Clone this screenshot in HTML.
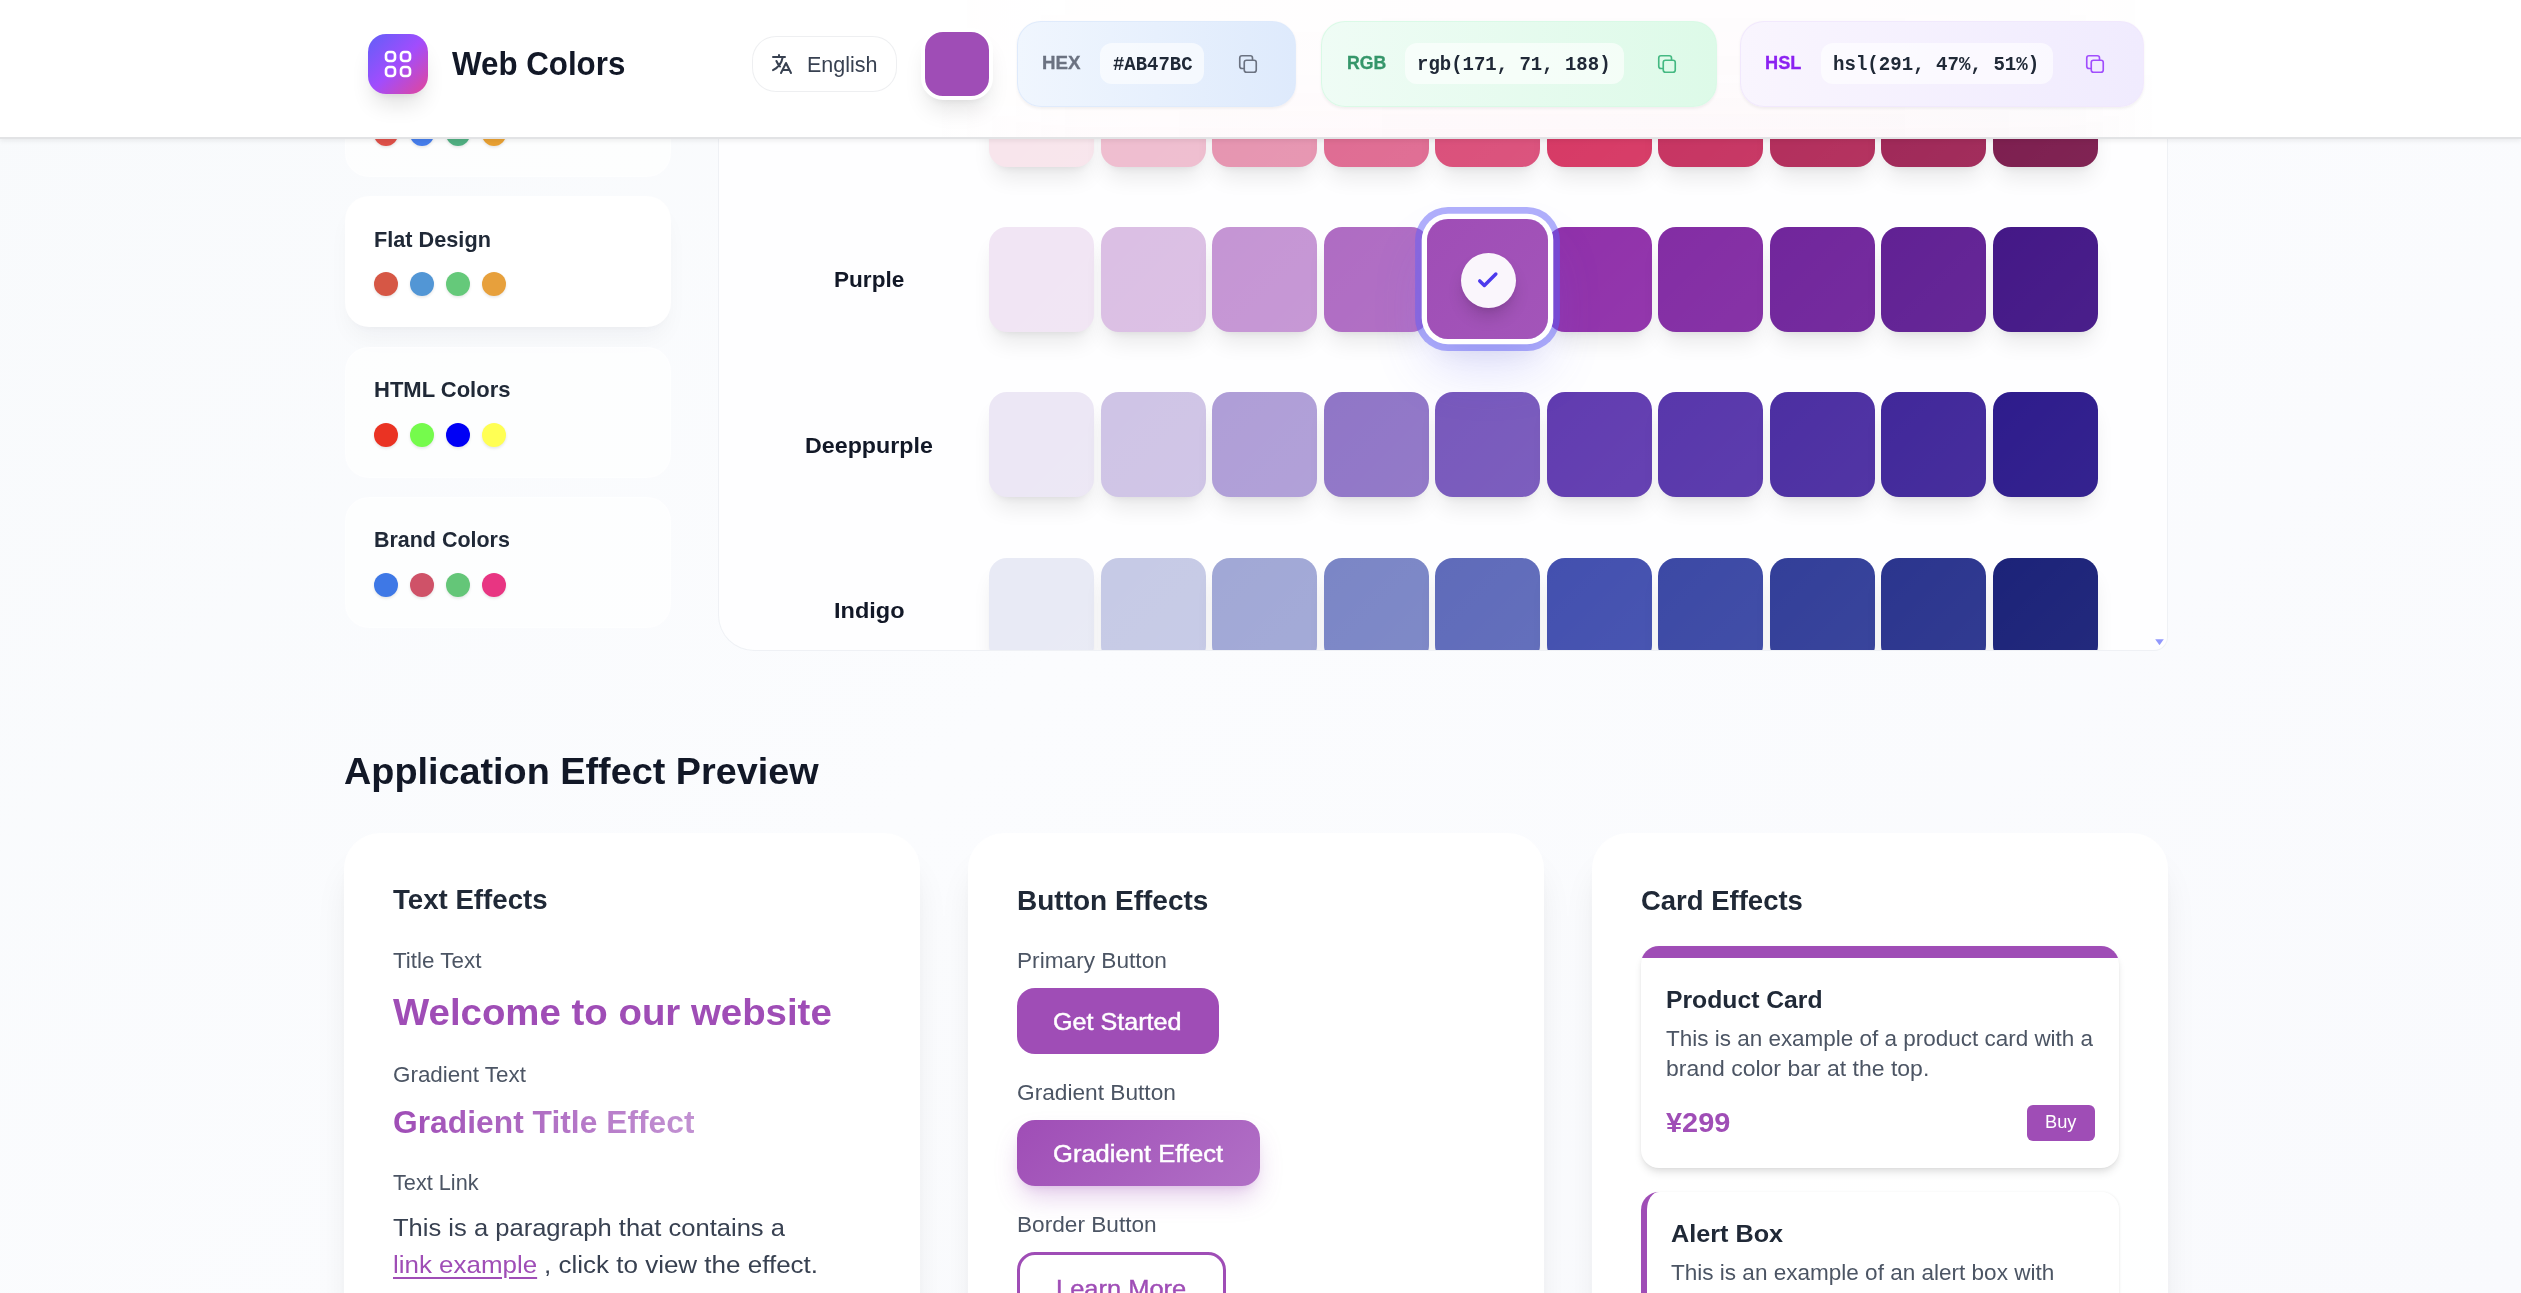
<!DOCTYPE html>
<html lang="en">
<head>
<meta charset="utf-8">
<title>Web Colors</title>
<style>
*{box-sizing:border-box;margin:0;padding:0}
html,body{width:2521px;height:1293px;overflow:hidden}
body{position:relative;font-family:"Liberation Sans",Arial,sans-serif;background:linear-gradient(135deg,#f8fafc 0%,#fbfcfe 45%,#f9fafd 100%);-webkit-font-smoothing:antialiased}
span,h1,h2,h3,h4,p,a,label,code,button{position:absolute;white-space:nowrap;display:block;transform-origin:0 50%}
a{text-decoration:none}
button{border:0;background:none;font:inherit}
.abs{position:absolute}
header{position:absolute;left:0;top:0;width:2521px;height:139px;background:#fff;border-bottom:2px solid rgba(224,225,228,.95);box-shadow:0 2px 5px rgba(0,0,0,.065);z-index:10}
.sw{position:absolute;width:105.4px;height:105.4px;border-radius:18px;box-shadow:0 15px 22px -5px rgba(0,0,0,.09),0 6px 9px -6px rgba(0,0,0,.09)}
.sw i{position:absolute;inset:0;border-radius:18px;background:linear-gradient(135deg,rgba(255,255,255,0) 0%,rgba(255,255,255,.03) 100%)}
.pal{position:absolute;left:344.5px;width:326px;height:131px;border-radius:24px;background:rgba(255,255,255,.62);border:1.5px solid rgba(255,255,255,.5)}
.pal.on{background:#fff;box-shadow:0 15px 24px -5px rgba(15,23,42,.045),0 6px 9px -6px rgba(15,23,42,.035)}
.dot{position:absolute;width:24px;height:24px;border-radius:50%;box-shadow:0 1.5px 3px rgba(0,0,0,.10)}
.fmt{position:absolute;top:20.5px;height:86.5px;border-radius:24px;box-shadow:0 1.5px 3px rgba(0,0,0,.05)}
.chip{position:absolute;top:23px;height:40.5px;border-radius:12px;background:rgba(255,255,255,.62)}
.card{position:absolute;top:832.5px;width:575.5px;height:620px;border-radius:36px;background:rgba(255,255,255,.86);border:1.5px solid rgba(255,255,255,.7);box-shadow:0 30px 37.5px -7.5px rgba(0,0,0,.088),0 12px 15px -9px rgba(0,0,0,.07)}
</style>
</head>
<body>

<aside>
<div class="pal" style="top:46.2px">
<i class="dot" style="left:28.5px;top:75.1px;background:#de5049"></i>
<i class="dot" style="left:64.5px;top:75.1px;background:#467deb"></i>
<i class="dot" style="left:100.5px;top:75.1px;background:#50af82"></i>
<i class="dot" style="left:136.5px;top:75.1px;background:#e8a032"></i>
</div>
<div class="pal on" style="top:196.3px">
<h3 style="left:28.60px;top:28.72px;font:700 21.6px/28px 'Liberation Sans',Arial,sans-serif;color:#202937;transform:scaleX(1.0043);">Flat Design</h3>
<i class="dot" style="left:28.5px;top:75.1px;background:#d65745"></i>
<i class="dot" style="left:64.5px;top:75.1px;background:#5296d5"></i>
<i class="dot" style="left:100.5px;top:75.1px;background:#65c97a"></i>
<i class="dot" style="left:136.5px;top:75.1px;background:#e7a03c"></i>
</div>
<div class="pal" style="top:346.5px">
<h3 style="left:28.70px;top:28.72px;font:700 21.6px/28px 'Liberation Sans',Arial,sans-serif;color:#202937;transform:scaleX(1.0187);">HTML Colors</h3>
<i class="dot" style="left:28.5px;top:75.1px;background:#ea3323"></i>
<i class="dot" style="left:64.5px;top:75.1px;background:#75fb4c"></i>
<i class="dot" style="left:100.5px;top:75.1px;background:#0000f5"></i>
<i class="dot" style="left:136.5px;top:75.1px;background:#ffff54"></i>
</div>
<div class="pal" style="top:496.7px">
<h3 style="left:28.70px;top:28.72px;font:700 21.6px/28px 'Liberation Sans',Arial,sans-serif;color:#202937;transform:scaleX(0.9931);">Brand Colors</h3>
<i class="dot" style="left:28.5px;top:75.1px;background:#3e78e6"></i>
<i class="dot" style="left:64.5px;top:75.1px;background:#cf5268"></i>
<i class="dot" style="left:100.5px;top:75.1px;background:#64c678"></i>
<i class="dot" style="left:136.5px;top:75.1px;background:#e83582"></i>
</div>
</aside>
<main class="abs" style="left:718.0px;top:-260px;width:1449.8px;height:911px;border-radius:36px 36px 14px 36px;background:rgba(255,255,255,.74);border:1.5px solid rgba(228,231,238,.6);overflow:hidden">
<section>
<div class="sw" style="left:270.10px;top:320.80px;background:#f8e5ec"><i></i></div>
<div class="sw" style="left:381.60px;top:320.80px;background:#efbdcf"><i></i></div>
<div class="sw" style="left:493.10px;top:320.80px;background:#e694b0"><i></i></div>
<div class="sw" style="left:604.60px;top:320.80px;background:#df6b92"><i></i></div>
<div class="sw" style="left:716.10px;top:320.80px;background:#da4f7a"><i></i></div>
<div class="sw" style="left:827.60px;top:320.80px;background:#d63864"><i></i></div>
<div class="sw" style="left:939.10px;top:320.80px;background:#c63361"><i></i></div>
<div class="sw" style="left:1050.60px;top:320.80px;background:#b22d5b"><i></i></div>
<div class="sw" style="left:1162.10px;top:320.80px;background:#9f2757"><i></i></div>
<div class="sw" style="left:1273.60px;top:320.80px;background:#7c1d4e"><i></i></div>
</section>
<section>
<h4 style="left:114.80px;top:525.22px;font:700 21.6px/28px 'Liberation Sans',Arial,sans-serif;color:#121827;transform:scaleX(1.0454);">Purple</h4>
<div class="sw" style="left:270.10px;top:485.50px;background:#f1e5f4"><i></i></div>
<div class="sw" style="left:381.60px;top:485.50px;background:#dbbfe4"><i></i></div>
<div class="sw" style="left:493.10px;top:485.50px;background:#c595d4"><i></i></div>
<div class="sw" style="left:604.60px;top:485.50px;background:#af6cc3"><i></i></div>
<div class="sw" style="left:827.60px;top:485.50px;background:#9031aa"><i></i></div>
<div class="sw" style="left:939.10px;top:485.50px;background:#832da4"><i></i></div>
<div class="sw" style="left:1050.60px;top:485.50px;background:#71269c"><i></i></div>
<div class="sw" style="left:1162.10px;top:485.50px;background:#612194"><i></i></div>
<div class="sw" style="left:1273.60px;top:485.50px;background:#441887"><i></i></div>
<div class="abs" style="left:707.95px;top:477.75px;width:120.7px;height:120.7px;border-radius:21px;background:linear-gradient(135deg,#9f4db6,#a355b9);box-shadow:0 0 0 5.3px #fff,0 0 0 11.9px rgba(97,95,248,0.5),0 30px 56px -4px rgba(97,95,248,0.22),0 20px 28px -12px rgba(0,0,0,.10);z-index:3">
<div class="abs" style="left:33.75px;top:34.05px;width:55.2px;height:55.2px;border-radius:50%;background:rgba(255,255,255,.95);box-shadow:0 11px 17px -3px rgba(0,0,0,.16),0 4px 7px -4px rgba(0,0,0,.12)">
<svg class="abs" style="left:13.20px;top:13.00px" width="27.6" height="27.6" viewBox="0 0 24 24" fill="none" stroke="#4c3aed" stroke-width="3" stroke-linecap="round" stroke-linejoin="round"><path d="M5 13l4 4L19 7"/></svg>
</div></div>
</section>
<section>
<h4 style="left:86.05px;top:690.72px;font:700 21.6px/28px 'Liberation Sans',Arial,sans-serif;color:#121827;transform:scaleX(1.0762);">Deeppurple</h4>
<div class="sw" style="left:270.10px;top:651.00px;background:#ece7f5"><i></i></div>
<div class="sw" style="left:381.60px;top:651.00px;background:#cfc4e6"><i></i></div>
<div class="sw" style="left:493.10px;top:651.00px;background:#af9ed7"><i></i></div>
<div class="sw" style="left:604.60px;top:651.00px;background:#9076c7"><i></i></div>
<div class="sw" style="left:716.10px;top:651.00px;background:#7859bc"><i></i></div>
<div class="sw" style="left:827.60px;top:651.00px;background:#613cb0"><i></i></div>
<div class="sw" style="left:939.10px;top:651.00px;background:#5837ab"><i></i></div>
<div class="sw" style="left:1050.60px;top:651.00px;background:#4c2fa2"><i></i></div>
<div class="sw" style="left:1162.10px;top:651.00px;background:#41289a"><i></i></div>
<div class="sw" style="left:1273.60px;top:651.00px;background:#2e1c8c"><i></i></div>
</section>
<section>
<h4 style="left:114.70px;top:856.22px;font:700 21.6px/28px 'Liberation Sans',Arial,sans-serif;color:#121827;transform:scaleX(1.0888);">Indigo</h4>
<div class="sw" style="left:270.10px;top:816.50px;background:#e8eaf5"><i></i></div>
<div class="sw" style="left:381.60px;top:816.50px;background:#c6cae6"><i></i></div>
<div class="sw" style="left:493.10px;top:816.50px;background:#a1a8d6"><i></i></div>
<div class="sw" style="left:604.60px;top:816.50px;background:#7b86c6"><i></i></div>
<div class="sw" style="left:716.10px;top:816.50px;background:#5f6bba"><i></i></div>
<div class="sw" style="left:827.60px;top:816.50px;background:#4350af"><i></i></div>
<div class="sw" style="left:939.10px;top:816.50px;background:#3c49a5"><i></i></div>
<div class="sw" style="left:1050.60px;top:816.50px;background:#333f99"><i></i></div>
<div class="sw" style="left:1162.10px;top:816.50px;background:#2b358e"><i></i></div>
<div class="sw" style="left:1273.60px;top:816.50px;background:#1c2379"><i></i></div>
</section>
</main>
<svg class="abs" style="left:2154.6px;top:638.8px" width="9" height="6.4" viewBox="0 0 9 6.4"><path d="M0.2 0.2h8.6L4.5 6.2z" fill="#7e86fb" fill-opacity=".85"/></svg>
<header>
<div class="abs" style="left:930px;top:0;width:1230px;height:137px;-webkit-mask-image:linear-gradient(180deg,rgba(0,0,0,.25) 0%,rgba(0,0,0,.5) 55%,#000 100%);mask-image:linear-gradient(180deg,rgba(0,0,0,.25) 0%,rgba(0,0,0,.5) 55%,#000 100%);background:linear-gradient(90deg,rgba(244,143,177,0) 0%,rgba(240,98,146,.022) 12%,rgba(233,30,99,.03) 45%,rgba(194,24,91,.03) 75%,rgba(136,14,79,.025) 92%,rgba(136,14,79,0) 100%)"></div>
<div class="abs" style="left:368px;top:34px;width:60px;height:60px;border-radius:18px;background:linear-gradient(135deg,#615ff8 0%,#a14dfd 50%,#e34698 100%);box-shadow:0 15px 22px -5px rgba(0,0,0,.12),0 6px 9px -6px rgba(0,0,0,.10)">
<svg class="abs" style="left:12px;top:12px" width="36" height="36" viewBox="0 0 24 24" fill="none" stroke="#fff" stroke-width="1.75" stroke-linecap="round" stroke-linejoin="round"><path d="M4 6a2 2 0 012-2h2a2 2 0 012 2v2a2 2 0 01-2 2H6a2 2 0 01-2-2V6zM14 6a2 2 0 012-2h2a2 2 0 012 2v2a2 2 0 01-2 2h-2a2 2 0 01-2-2V6zM4 16a2 2 0 012-2h2a2 2 0 012 2v2a2 2 0 01-2 2H6a2 2 0 01-2-2v-2zM14 16a2 2 0 012-2h2a2 2 0 012 2v2a2 2 0 01-2 2h-2a2 2 0 01-2-2v-2z"/></svg>
</div>
<h1 style="left:452.30px;top:42.13px;font:700 32.8px/43px 'Liberation Sans',Arial,sans-serif;color:#121827;transform:scaleX(0.9543);">Web Colors</h1>
<div class="abs" style="left:751.5px;top:36px;width:145.5px;height:56px;border-radius:24px;background:rgba(255,255,255,.8);border:1.5px solid rgba(232,233,236,.75)">
<svg class="abs" style="left:17.7px;top:14.6px" width="24" height="24" viewBox="0 0 24 24" fill="none" stroke="#384151" stroke-width="2" stroke-linecap="round" stroke-linejoin="round"><path d="M3 5h12M9 3v2m1.048 9.5A18.022 18.022 0 016.412 9m6.088 9h7M11 21l5-10 5 10M12.751 5C11.783 10.77 8.07 15.61 3 18.129"/></svg>
<span style="left:54.20px;top:12.77px;font:400 22.3px/29px 'Liberation Sans',Arial,sans-serif;color:#384151;transform:scaleX(0.9638);">English</span>
</div>
<div class="abs" style="left:921px;top:28px;width:72px;height:72px;border-radius:22px;background:#9f4db6;border:4px solid #fff;box-shadow:0 15px 22px -5px rgba(0,0,0,.10),0 6px 9px -6px rgba(0,0,0,.08)"></div>
<div class="fmt" style="left:1016.5px;width:279px;background:linear-gradient(90deg,#f0f6fe,#deeafc);border:1.5px solid rgba(222,234,252,0.9)">
<label style="left:24.50px;top:29.19px;font:700 18.8px/24px 'Liberation Sans',Arial,sans-serif;color:#6b7281;transform:scaleX(0.9987);-webkit-text-stroke:0.3px #6b7281;">HEX</label>
<div class="chip" style="left:82.3px;top:21.6px;width:104.2px">
<code style="left:13.10px;top:9.63px;font:700 19.4px/25px 'Liberation Mono','DejaVu Sans Mono',monospace;color:#202937;transform:scaleX(0.9767);">#AB47BC</code>
</div>
<svg class="abs" style="left:218.4px;top:30.2px" width="24" height="24" viewBox="0 0 24 24" fill="none" stroke="#6b7281" stroke-width="1.65" stroke-linecap="round" stroke-linejoin="round"><path d="M16.5 8.25V6a2.25 2.25 0 00-2.25-2.25H6A2.25 2.25 0 003.75 6v8.25A2.25 2.25 0 006 16.5h2.25m8.25-8.25H18a2.25 2.25 0 012.25 2.25V18A2.25 2.25 0 0118 20.25h-7.5A2.25 2.25 0 018.25 18v-1.5m8.25-8.25h-6a2.25 2.25 0 00-2.25 2.25v6"/></svg>
</div>
<div class="fmt" style="left:1320.9px;width:396.2px;background:linear-gradient(90deg,#effcf5,#ddfae8);border:1.5px solid rgba(216,249,230,0.9)">
<label style="left:24.70px;top:29.19px;font:700 18.8px/24px 'Liberation Sans',Arial,sans-serif;color:#35966a;transform:scaleX(0.9413);-webkit-text-stroke:0.3px #35966a;">RGB</label>
<div class="chip" style="left:83.2px;top:21.6px;width:219px">
<code style="left:12.20px;top:9.63px;font:700 19.4px/25px 'Liberation Mono','DejaVu Sans Mono',monospace;color:#202937;transform:scaleX(0.9783);">rgb(171, 71, 188)</code>
</div>
<svg class="abs" style="left:333.2px;top:30.2px" width="24" height="24" viewBox="0 0 24 24" fill="none" stroke="#44b982" stroke-width="1.65" stroke-linecap="round" stroke-linejoin="round"><path d="M16.5 8.25V6a2.25 2.25 0 00-2.25-2.25H6A2.25 2.25 0 003.75 6v8.25A2.25 2.25 0 006 16.5h2.25m8.25-8.25H18a2.25 2.25 0 012.25 2.25V18A2.25 2.25 0 0118 20.25h-7.5A2.25 2.25 0 018.25 18v-1.5m8.25-8.25h-6a2.25 2.25 0 00-2.25 2.25v6"/></svg>
</div>
<div class="fmt" style="left:1740px;width:404px;background:linear-gradient(90deg,#f9f5fe,#f0ebfe);border:1.5px solid rgba(241,232,253,0.9)">
<label style="left:24.20px;top:29.19px;font:700 18.8px/24px 'Liberation Sans',Arial,sans-serif;color:#8b21f1;transform:scaleX(0.9680);-webkit-text-stroke:0.3px #8b21f1;">HSL</label>
<div class="chip" style="left:79.7px;top:21.6px;width:232.1px">
<code style="left:12.20px;top:9.63px;font:700 19.4px/25px 'Liberation Mono','DejaVu Sans Mono',monospace;color:#202937;transform:scaleX(0.9847);">hsl(291, 47%, 51%)</code>
</div>
<svg class="abs" style="left:341.9px;top:30.2px" width="24" height="24" viewBox="0 0 24 24" fill="none" stroke="#a14dfd" stroke-width="1.65" stroke-linecap="round" stroke-linejoin="round"><path d="M16.5 8.25V6a2.25 2.25 0 00-2.25-2.25H6A2.25 2.25 0 003.75 6v8.25A2.25 2.25 0 006 16.5h2.25m8.25-8.25H18a2.25 2.25 0 012.25 2.25V18A2.25 2.25 0 0118 20.25h-7.5A2.25 2.25 0 018.25 18v-1.5m8.25-8.25h-6a2.25 2.25 0 00-2.25 2.25v6"/></svg>
</div>
</header>
<section>
<h2 style="left:343.90px;top:748.02px;font:700 36.6px/48px 'Liberation Sans',Arial,sans-serif;color:#121827;transform:scaleX(1.0332);">Application Effect Preview</h2>
<article class="card" style="left:344.0px">
<h3 style="left:48.30px;top:48.84px;font:700 27.6px/36px 'Liberation Sans',Arial,sans-serif;color:#202937;transform:scaleX(1.0013);">Text Effects</h3>
<span style="left:48.00px;top:113.35px;font:400 21.2px/28px 'Liberation Sans',Arial,sans-serif;color:#4c5564;transform:scaleX(1.0579);">Title Text</span>
<h4 style="left:48.00px;top:155.02px;font:700 36.6px/48px 'Liberation Sans',Arial,sans-serif;color:#9f4db6;transform:scaleX(1.0496);">Welcome to our website</h4>
<span style="left:48.00px;top:227.05px;font:400 21.2px/28px 'Liberation Sans',Arial,sans-serif;color:#4c5564;transform:scaleX(1.0577);">Gradient Text</span>
<h4 style="left:48.00px;top:268.83px;font:700 30.5px/40px 'Liberation Sans',Arial,sans-serif;color:#9f4db6;transform:scaleX(1.0424);background:linear-gradient(90deg,#9f4db6,#c292d2);-webkit-background-clip:text;background-clip:text;-webkit-text-fill-color:transparent;">Gradient Title Effect</h4>
<span style="left:48.00px;top:335.35px;font:400 21.2px/28px 'Liberation Sans',Arial,sans-serif;color:#4c5564;transform:scaleX(1.0233);">Text Link</span>
<p style="left:48.00px;top:378.81px;font:400 24.2px/31px 'Liberation Sans',Arial,sans-serif;color:#384151;transform:scaleX(1.0562);">This is a paragraph that contains a</p>
<a style="left:48.00px;top:415.11px;font:400 24.2px/31px 'Liberation Sans',Arial,sans-serif;color:#9f4db6;transform:scaleX(1.0721);text-decoration:underline;text-decoration-thickness:1.6px;text-underline-offset:3.5px;">link example</a>
<span style="left:199.10px;top:415.11px;font:400 24.2px/31px 'Liberation Sans',Arial,sans-serif;color:#384151;transform:scaleX(1.0749);">, click to view the effect.</span>
</article>
<article class="card" style="left:968.0px">
<h3 style="left:47.50px;top:49.04px;font:700 27.6px/36px 'Liberation Sans',Arial,sans-serif;color:#202937;transform:scaleX(1.0149);">Button Effects</h3>
<span style="left:47.70px;top:113.25px;font:400 21.2px/28px 'Liberation Sans',Arial,sans-serif;color:#4c5564;transform:scaleX(1.0695);">Primary Button</span>
<div class="abs" style="left:47.5px;top:154.0px;width:202px;height:66px;border-radius:18px;background:#9f4db6">
<span style="left:36.60px;top:18.11px;font:400 24.2px/31px 'Liberation Sans',Arial,sans-serif;color:#fff;transform:scaleX(1.0392);-webkit-text-stroke:0.45px #fff;">Get Started</span>
</div>
<span style="left:47.80px;top:245.35px;font:400 21.2px/28px 'Liberation Sans',Arial,sans-serif;color:#4c5564;transform:scaleX(1.0707);">Gradient Button</span>
<div class="abs" style="left:47.5px;top:286.0px;width:243px;height:66px;border-radius:18px;background:linear-gradient(135deg,#9f4db6 0%,#b170c6 100%);box-shadow:0 14px 26px -4px rgba(159,77,182,0.28),0 6px 10px -6px rgba(159,77,182,0.25)">
<span style="left:36.50px;top:18.41px;font:400 24.2px/31px 'Liberation Sans',Arial,sans-serif;color:#fff;transform:scaleX(1.0571);-webkit-text-stroke:0.45px #fff;">Gradient Effect</span>
</div>
<span style="left:47.70px;top:377.65px;font:400 21.2px/28px 'Liberation Sans',Arial,sans-serif;color:#4c5564;transform:scaleX(1.0685);">Border Button</span>
<div class="abs" style="left:47.5px;top:418.0px;width:209px;height:66px;border-radius:18px;border:3px solid #9f4db6">
<span style="left:36.90px;top:18.11px;font:400 24.2px/31px 'Liberation Sans',Arial,sans-serif;color:#9f4db6;transform:scaleX(1.0529);-webkit-text-stroke:0.4px #9f4db6;">Learn More</span>
</div>
</article>
<article class="card" style="left:1592.0px">
<h3 style="left:48.00px;top:49.54px;font:700 27.6px/36px 'Liberation Sans',Arial,sans-serif;color:#202937;transform:scaleX(0.9957);">Card Effects</h3>
<div class="abs" style="left:47.5px;top:112.0px;width:478px;height:222px;border-radius:18px;background:#fff;overflow:hidden;box-shadow:0 6px 9px -1px rgba(0,0,0,.09),0 3px 6px -2px rgba(0,0,0,.07),0 0 2px rgba(0,0,0,.04)">
<div class="abs" style="left:0;top:0;width:478px;height:12px;background:#9f4db6"></div>
<h4 style="left:25.00px;top:38.31px;font:700 24.5px/32px 'Liberation Sans',Arial,sans-serif;color:#202937;transform:scaleX(1.0087);">Product Card</h4>
<p style="left:25.00px;top:79.25px;font:400 21.2px/28px 'Liberation Sans',Arial,sans-serif;color:#4c5564;transform:scaleX(1.0604);">This is an example of a product card with a</p>
<p style="left:25.00px;top:109.25px;font:400 21.2px/28px 'Liberation Sans',Arial,sans-serif;color:#4c5564;transform:scaleX(1.0851);">brand color bar at the top.</p>
<span style="left:25.00px;top:159.04px;font:700 27.6px/36px 'Liberation Sans',Arial,sans-serif;color:#9f4db6;transform:scaleX(1.0472);">¥299</span>
<div class="abs" style="left:386px;top:159.1px;width:68px;height:36.2px;border-radius:6px;background:#9f4db6">
<span style="left:18.40px;top:5.42px;font:400 18.4px/24px 'Liberation Sans',Arial,sans-serif;color:#fff;transform:scaleX(0.9921);">Buy</span>
</div></div>
<div class="abs" style="left:47.5px;top:358.2px;width:478px;height:150px;border-radius:18px;background:rgba(255,255,255,.75);border-left:6px solid #9f4db6;box-shadow:1px 0 2.5px rgba(0,0,0,.06)">
<h4 style="left:24.50px;top:26.61px;font:700 24.5px/32px 'Liberation Sans',Arial,sans-serif;color:#202937;transform:scaleX(1.0294);">Alert Box</h4>
<p style="left:24.50px;top:67.45px;font:400 21.2px/28px 'Liberation Sans',Arial,sans-serif;color:#4c5564;transform:scaleX(1.0635);">This is an example of an alert box with</p>
</div>
</article>
</section>
</body>
</html>
